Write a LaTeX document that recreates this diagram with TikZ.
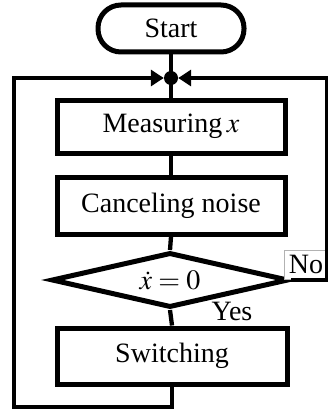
\documentclass[tikz,border=0pt]{standalone}
\usepackage{mathptmx}
\usepackage[no-math]{fontspec}
\setmainfont{Liberation Serif}
\usetikzlibrary{shapes.geometric,arrows.meta}
\begin{document}
\begin{tikzpicture}[x=1pt,y=-1pt,
  font=\fontsize{28}{32}\selectfont,
  procbox/.style={draw,line width=5pt,minimum width=228pt,inner sep=0pt},
  conn/.style={line width=4.3pt},
  tip/.style={-{Triangle[length=13pt,width=16pt]}}]
\useasboundingbox (0,0) rectangle (328,412);
\node[draw,line width=5pt,rounded corners=23pt,minimum width=146pt,minimum height=47pt,inner sep=0pt] (start) at (171,28.5) {Start};
\node[circle,fill,inner sep=0pt,minimum size=14pt] (dot) at (171,78) {};
\node[procbox,minimum height=53pt] (meas) at (171,126.5) {Measuring\,$x$};
\node[procbox,minimum height=57pt] (canc) at (171,205.5) {Canceling noise};
\node[diamond,draw,line width=5pt,minimum width=237pt,minimum height=55pt,aspect=4.3,inner sep=0pt] (dec) at (170,280) {$\dot{x}=0$};
\node[procbox,minimum width=230pt,minimum height=56pt] (sw) at (172,356) {Switching};
\coordinate (bl) at (14,407);
\coordinate (br) at (172,407);
\coordinate (tl) at (14,78);
\coordinate (tr) at (327.5,78);
\coordinate (rr) at (327.5,280);
\draw[conn] (start.south) -- (dot.center);
\draw[conn] (dot.center) -- (meas.north);
\draw[conn] (meas.south) -- (canc.north);
\draw[conn] (canc.south) -- (dec.north);
\draw[conn] (dec.south) -- (sw.north);
\draw[conn,tip] (sw.south) -- (br) -- (bl) -- (tl) -- (dot.west);
\node[draw=gray!60,fill=white,line width=0.6pt,minimum width=44pt,minimum height=29pt,inner sep=0pt] (no) at (306,264.5) {No};
\draw[conn,tip] (dec.east) -- (rr) -- (tr) -- (dot.east);
\node (yes) at (232,311) {Yes};
\end{tikzpicture}
\end{document}
